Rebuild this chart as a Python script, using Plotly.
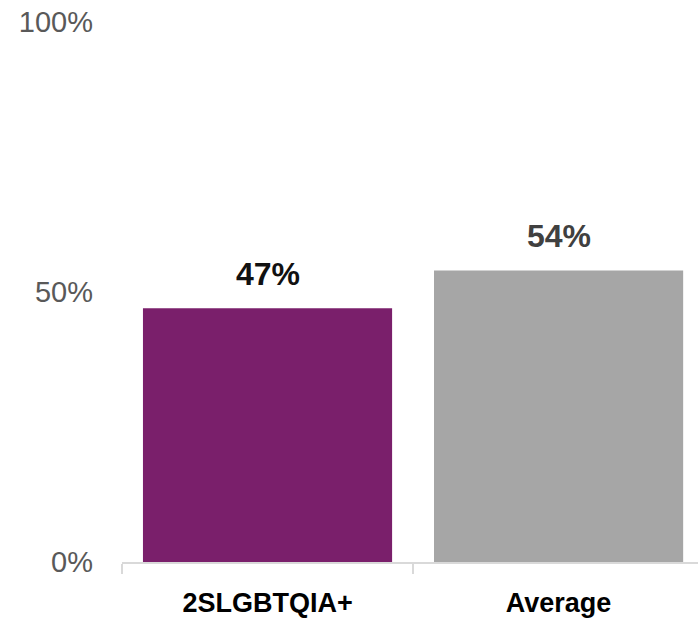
import plotly.graph_objects as go

# Share of respondents: 2SLGBTQIA+ group vs. overall average
categories = ["2SLGBTQIA+", "Average"]
values = [0.47, 0.54]
bar_colors = ["#7A1F6B", "#A6A6A6"]
label_colors = ["#111111", "#404040"]
y_ticks = [0, 0.5, 1.0]
y_tick_text = ["0%", "50%", "100%"]

fig = go.Figure(
    go.Bar(
        x=categories,
        y=values,
        marker=dict(color=bar_colors, line=dict(width=0)),
        width=0.856,
        hoverinfo="skip",
    )
)

# Value labels above each bar
for cat, val, col in zip(categories, values, label_colors):
    fig.add_annotation(
        x=cat,
        y=val,
        text=f"<b>{round(val * 100)}%</b>",
        showarrow=False,
        yanchor="bottom",
        yshift=14,
        font=dict(family="Liberation Sans, Arial, sans-serif", size=32, color=col),
    )

fig.update_layout(
    width=698,
    height=618,
    margin=dict(l=122, r=0, t=22, b=56),
    paper_bgcolor="white",
    plot_bgcolor="white",
    showlegend=False,
    font=dict(family="Liberation Sans, Arial, sans-serif"),
)

fig.update_xaxes(
    type="category",
    range=[-0.5, 1.479],
    showline=True,
    linecolor="#D9D9D9",
    linewidth=1.5,
    ticks="outside",
    tickson="boundaries",
    ticklen=10,
    tickcolor="#D9D9D9",
    tickwidth=1.5,
    showgrid=False,
    tickfont=dict(size=27, color="#000000", family="Liberation Sans, Arial, sans-serif", weight="bold"),
    ticklabelstandoff=16,
)

fig.update_yaxes(
    range=[0, 1.0],
    tickvals=y_ticks,
    ticktext=y_tick_text,
    showgrid=False,
    showline=False,
    zeroline=False,
    ticks="",
    tickfont=dict(size=29, color="#595959"),
    ticklabelstandoff=28,
)

fig.write_html("out.html")
